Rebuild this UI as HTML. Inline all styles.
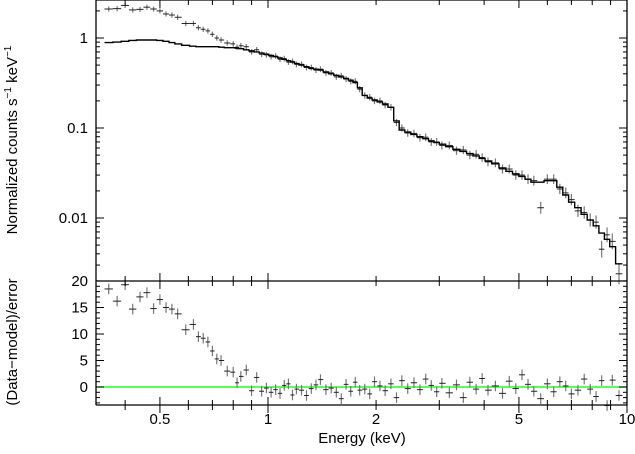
<!DOCTYPE html>
<html><head><meta charset="utf-8"><style>
body{margin:0;background:#fff;}
svg text{font-family:"Liberation Sans",Arial,sans-serif;fill:#000;}
</style></head><body>
<svg id="chart" width="635" height="449" xmlns="http://www.w3.org/2000/svg">
<g id="marks"></g>
<text x="0" y="0" font-size="15" text-anchor="middle" transform="translate(17,140) rotate(-90)">Normalized counts s<tspan font-size="10" dy="-6">−1</tspan><tspan dy="6"> keV</tspan><tspan font-size="10" dy="-6">−1</tspan></text>
<text x="0" y="0" font-size="15" text-anchor="middle" transform="translate(17,342) rotate(-90)">(Data−model)/error</text>
<text x="362" y="443" font-size="15" text-anchor="middle">Energy (keV)</text>
</svg>
<script>
const energies=[0.36,0.38,0.40,0.42,0.44,0.46,0.48,0.50,0.52,0.54,0.56,0.59,0.62,0.64,0.66,0.68,0.70,0.72,0.74,0.77,0.80,0.82,0.84,0.87,0.90,0.93,0.96,0.99,1.02,1.05,1.08,1.11,1.14,1.17,1.2,1.24,1.28,1.32,1.36,1.4,1.45,1.5,1.55,1.6,1.65,1.7,1.75,1.8,1.86,1.92,1.98,2.05,2.12,2.2,2.28,2.36,2.45,2.55,2.65,2.75,2.85,2.95,3.05,3.2,3.35,3.5,3.65,3.8,3.95,4.1,4.3,4.5,4.7,4.9,5.1,5.3,5.5,5.75,6.0,6.25,6.5,6.75,7.0,7.3,7.6,7.9,8.2,8.5,8.8,9.1,9.5];
const modelVals=[0.89,0.90,0.92,0.94,0.95,0.95,0.95,0.94,0.92,0.89,0.86,0.83,0.81,0.80,0.80,0.80,0.80,0.80,0.79,0.78,0.78,0.77,0.76,0.74,0.72,0.70,0.68,0.66,0.64,0.62,0.60,0.58,0.56,0.54,0.52,0.50,0.48,0.46,0.45,0.44,0.42,0.40,0.385,0.37,0.355,0.34,0.32,0.28,0.23,0.215,0.205,0.195,0.185,0.17,0.12,0.095,0.09,0.085,0.08,0.076,0.072,0.069,0.066,0.062,0.058,0.055,0.052,0.049,0.046,0.043,0.040,0.036,0.033,0.031,0.029,0.027,0.025,0.025,0.026,0.026,0.022,0.018,0.015,0.013,0.011,0.0095,0.0082,0.0068,0.0058,0.0048,0.0031];
const dataVals=[2.1,2.12,2.3,2.05,2.08,2.2,2.1,2.0,1.85,1.8,1.7,1.45,1.45,1.3,1.25,1.2,1.1,1.0,0.95,0.88,0.86,0.79,0.82,0.8,0.7,0.74,0.66,0.65,0.62,0.63,0.58,0.59,0.54,0.55,0.51,0.51,0.47,0.47,0.44,0.45,0.41,0.41,0.37,0.38,0.35,0.33,0.33,0.27,0.23,0.22,0.2,0.2,0.18,0.17,0.115,0.1,0.088,0.087,0.078,0.079,0.07,0.07,0.064,0.064,0.056,0.057,0.05,0.051,0.047,0.042,0.041,0.035,0.035,0.03,0.03,0.027,0.026,0.013,0.027,0.027,0.021,0.019,0.016,0.012,0.0115,0.0095,0.009,0.0045,0.0065,0.0055,0.0024];
const residVals=[18.5,16.2,19.3,14.7,17,17.8,14.8,16.5,15,14.7,13.8,10.8,11.8,9.5,9.2,8.5,6.8,5.3,5,3,2.8,0.8,2,3.2,-0.7,1.8,-0.8,-0.2,-1,-0.5,-1.2,0.3,0.6,-1.5,-0.4,-0.6,-1.6,-0.3,0.4,1.4,-0.5,-0.2,-1,-2.2,0.5,-0.8,0.9,-0.6,-0.4,-1.3,1,0.2,-0.7,0.6,-2,1.2,-0.3,0.8,-0.5,1.5,0.3,-0.9,0.7,-1.1,0.4,-2,0.9,-0.4,1.6,-0.6,0.2,-1.2,1.1,-0.3,2.3,0.5,-0.8,-2.2,0.6,-0.9,1,0.2,-1.3,-0.6,1.5,-0.4,-1.8,1.2,-3.5,1.3,-1.6];
const topTickVals=[1,0.1,0.01];
const topTickLabels=["1","0.1","0.01"];
const resTickVals=[20,15,10,5,0];
const xTickVals=[0.5,1,2,5,10];
const xTickLabels=["0.5","1","2","5","10"];

const L=96,R=627,T=0,MID=281,B=405;
const xs=e=>268+359*Math.log10(e);
const yTop=v=>38-90*Math.log10(v);
const yRes=v=>387-(106/20)*v;
const NS="http://www.w3.org/2000/svg";
const g=document.getElementById('marks');
function ln(x1,y1,x2,y2,c,w){const l=document.createElementNS(NS,'line');l.setAttribute('x1',x1);l.setAttribute('y1',y1);l.setAttribute('x2',x2);l.setAttribute('y2',y2);l.setAttribute('stroke',c||'#000');l.setAttribute('stroke-width',w||1);g.appendChild(l);return l;}
function tx(x,y,s,a){const t=document.createElementNS(NS,'text');t.setAttribute('x',x);t.setAttribute('y',y);t.setAttribute('font-size','15');t.setAttribute('text-anchor',a);t.textContent=s;g.appendChild(t);return t;}

const z=ln(L,yRes(0),R,yRes(0),'#2f2',1.5);



const edges=energies.map((e,i)=>i>0?Math.sqrt(energies[i-1]*e):e*e/Math.sqrt(energies[1]*e));
const hi=energies.map((e,i)=>i<energies.length-1?Math.sqrt(e*energies[i+1]):e*Math.sqrt(e/energies[i-1]));

energies.forEach((e,i)=>{
  const x=xs(e),x1=xs(edges[i]),x2=xs(hi[i]);
  const v=dataVals[i];
  const y=yTop(v);
  const f=1.06+0.012/Math.sqrt(v);
  ln(x,yTop(v*f),x,yTop(v/f),'#777',1.2);
  const a=ln(x1,y,x2,y,'#222',1);
  
  
  const yr=yRes(residVals[i]);
  ln(x,yRes(residVals[i]+1),x,yRes(residVals[i]-1),'#777',1.2);
  const b=ln(x1,yr,x2,yr,'#222',1);
  
  
});
let d='';
energies.forEach((e,i)=>{const y=yTop(modelVals[i]);d+=(i?'L':'M')+xs(edges[i]).toFixed(1)+' '+y.toFixed(1)+'L'+xs(hi[i]).toFixed(1)+' '+y.toFixed(1);});
const m=document.createElementNS(NS,'path');m.setAttribute('d',d);m.setAttribute('fill','none');m.setAttribute('stroke','#000');m.setAttribute('stroke-width','1.4');


g.appendChild(m);

[[L,T,R,T],[L,T,L,B],[R,T,R,B],[L,MID,R,MID],[L,B,R,B]].forEach(s=>ln(...s,'#000',1.3));
for(let dcd=-1;dcd<=0;dcd++)for(let k=1;k<=10;k++){const e=k*Math.pow(10,dcd);if(e<0.33||e>10)continue;const x=xs(e);const len=(k==1||k==10||k==5)?8:5;
 [T,MID,B].forEach(y0=>{ln(x,y0,x,y0+len);ln(x,y0,x,y0-len);});}
xTickVals.forEach((v,i)=>{const t=tx(xs(v),424,xTickLabels[i],'middle');});
for(let dcd=-3;dcd<=0;dcd++)for(let k=1;k<10;k++){const v=k*Math.pow(10,dcd);const y=yTop(v);if(y<T||y>MID)continue;const len=k==1?8:4;ln(L,y,L+len,y);ln(R,y,R-len,y);}
topTickVals.forEach((v,i)=>{const t=tx(L-8,yTop(v)+5,topTickLabels[i],'end');});
for(let v=-3;v<=20;v++){const y=yRes(v);const len=v%5==0?8:4;ln(L,y,L+len,y);ln(R,y,R-len,y);}
resTickVals.forEach(v=>{const t=tx(L-8,yRes(v)+5,String(v),'end');});
</script>
</body></html>
